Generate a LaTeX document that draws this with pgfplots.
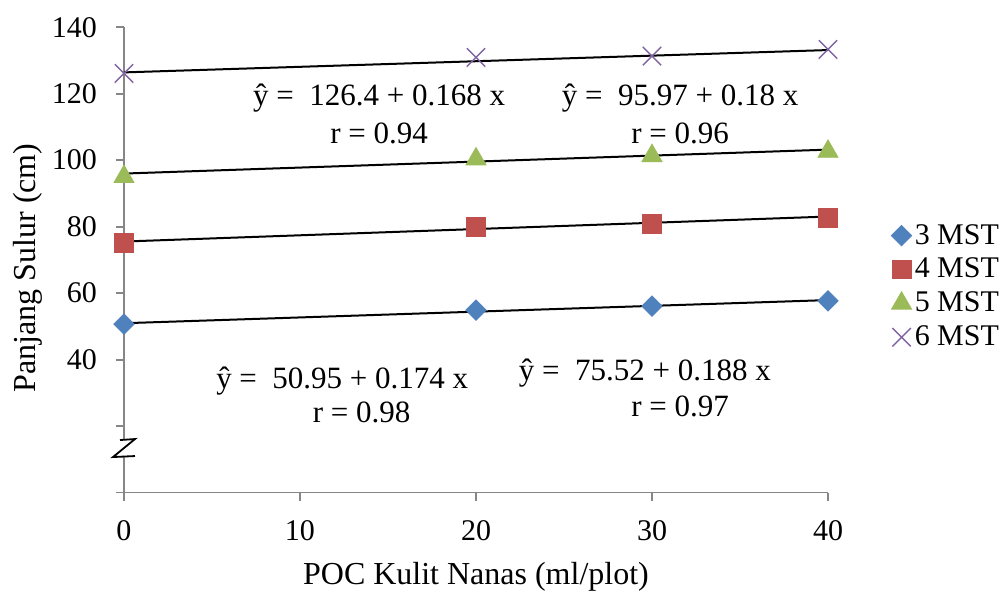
\documentclass[border=0pt]{standalone}
\usepackage{fontspec}
\setmainfont{Liberation Serif}
\usepackage{pgfplots}
\pgfplotsset{compat=1.18}
\definecolor{cA}{HTML}{4F81BD}
\definecolor{cB}{HTML}{C0504D}
\definecolor{cC}{HTML}{9BBB59}
\definecolor{cD}{HTML}{8064A2}
\definecolor{axgray}{HTML}{868686}
\begin{document}
\begin{tikzpicture}
\path[use as bounding box] (-62pt,-49.7pt) rectangle (441pt,246.3pt);
\begin{axis}[
  scale only axis, width=352pt, height=232.7pt,
  at={(0,0)}, anchor=south west,
  xmin=0, xmax=40, ymin=0, ymax=140,
  axis x line*=bottom, axis y line*=left,
  axis line style={draw=axgray, line width=0.9pt},
  xtick={0,10,20,30,40},
  ytick={0,20,40,60,80,100,120,140},
  yticklabels={,,40,60,80,100,120,140},
  tick align=outside, major tick length=4pt,
  tick style={axgray, line width=0.9pt},
  ticklabel style={font=\fontsize{15}{18}\selectfont},
  /pgf/number format/assume math mode=true,
  xticklabel style={yshift=-6.5pt},
  yticklabel style={xshift=-6pt},
  xlabel={POC Kulit Nanas (ml/plot)},
  ylabel={Panjang Sulur (cm)},
  label style={font=\fontsize{16}{19}\selectfont},
  xlabel style={at={(axis description cs:0.5,0)}, anchor=center, yshift=-42pt},
  ylabel style={at={(axis description cs:0,0.5)}, anchor=center, yshift=48pt, xshift=-4pt},
  clip=false,
  legend style={draw=none, fill=none, at={(axis description cs:1.0,0.443)}, anchor=west, xshift=31.5pt,
    font=\fontsize{15}{18}\selectfont, row sep=2.5pt, inner sep=0pt,
    nodes={inner sep=1.5pt}},
  legend cell align=left,
  legend image code/.code={\draw[#1] (0.15cm,0) -- plot coordinates {(0.15cm,0)};},
]
% trend lines
\addplot[black, line width=1pt, forget plot] coordinates {(0,50.95) (40,57.91)};
\addplot[black, line width=1pt, forget plot] coordinates {(0,75.52) (40,83.04)};
\addplot[black, line width=1pt, forget plot] coordinates {(0,95.97) (40,103.17)};
\addplot[black, line width=1pt, forget plot] coordinates {(0,126.4) (40,133.12)};
% data
\addplot[only marks, mark=square*, mark size=3.6pt, mark options={rotate=45}, color=cA] coordinates {(0,50.7) (20,54.9) (30,56.1) (40,57.7)};
\addlegendentry{3 MST}
\addplot[only marks, mark=square*, mark size=4.7pt, color=cB] coordinates {(0,75.0) (20,80.0) (30,80.8) (40,82.6)};
\addlegendentry{4 MST}
\addplot[only marks, mark=triangle*, mark size=5.8pt, color=cC] coordinates {(0,95.0) (20,100.3) (30,101.3) (40,102.6)};
\addlegendentry{5 MST}
\addplot[only marks, mark=x, mark size=6.5pt, color=cD, mark options={line width=0.7pt}] coordinates {(0,126.1) (20,130.9) (30,131.3) (40,133.3)};
\addlegendentry{6 MST}
% equations
\node[font=\fontsize{15.5}{18}\selectfont, align=center] at (axis cs:14.5,114) {ŷ =\ \ 126.4 + 0.168 x\\[1pt] r = 0.94};
\node[font=\fontsize{15.5}{18}\selectfont, align=center] at (axis cs:31.6,114) {ŷ =\ \ 95.97 + 0.18 x\\[1pt] r = 0.96};
\node[font=\fontsize{15.5}{18}\selectfont, anchor=center] at (axis cs:12.4,33.4) {ŷ =\ \ 50.95 + 0.174 x};
\node[font=\fontsize{15.5}{18}\selectfont, anchor=center] at (axis cs:13.5,24.2) {r = 0.98};
\node[font=\fontsize{15.5}{18}\selectfont, anchor=center] at (axis cs:29.6,36.0) {ŷ =\ \ 75.52 + 0.188 x};
\node[font=\fontsize{15.5}{18}\selectfont, anchor=center] at (axis cs:31.6,25.8) {r = 0.97};
% axis break
\fill[white] ([xshift=-6pt,yshift=-4.5pt]axis cs:0,13.4) rectangle ([xshift=6pt,yshift=4.5pt]axis cs:0,13.4);
\draw[black, line width=0.9pt] ([xshift=-2pt,yshift=4pt]axis cs:0,13.4) -- ([xshift=5.5pt,yshift=4.5pt]axis cs:0,13.4)
  -- ([xshift=-5.5pt,yshift=-4.5pt]axis cs:0,13.4) -- ([xshift=5.5pt,yshift=-4pt]axis cs:0,13.4);
\end{axis}
\end{tikzpicture}
\end{document}
